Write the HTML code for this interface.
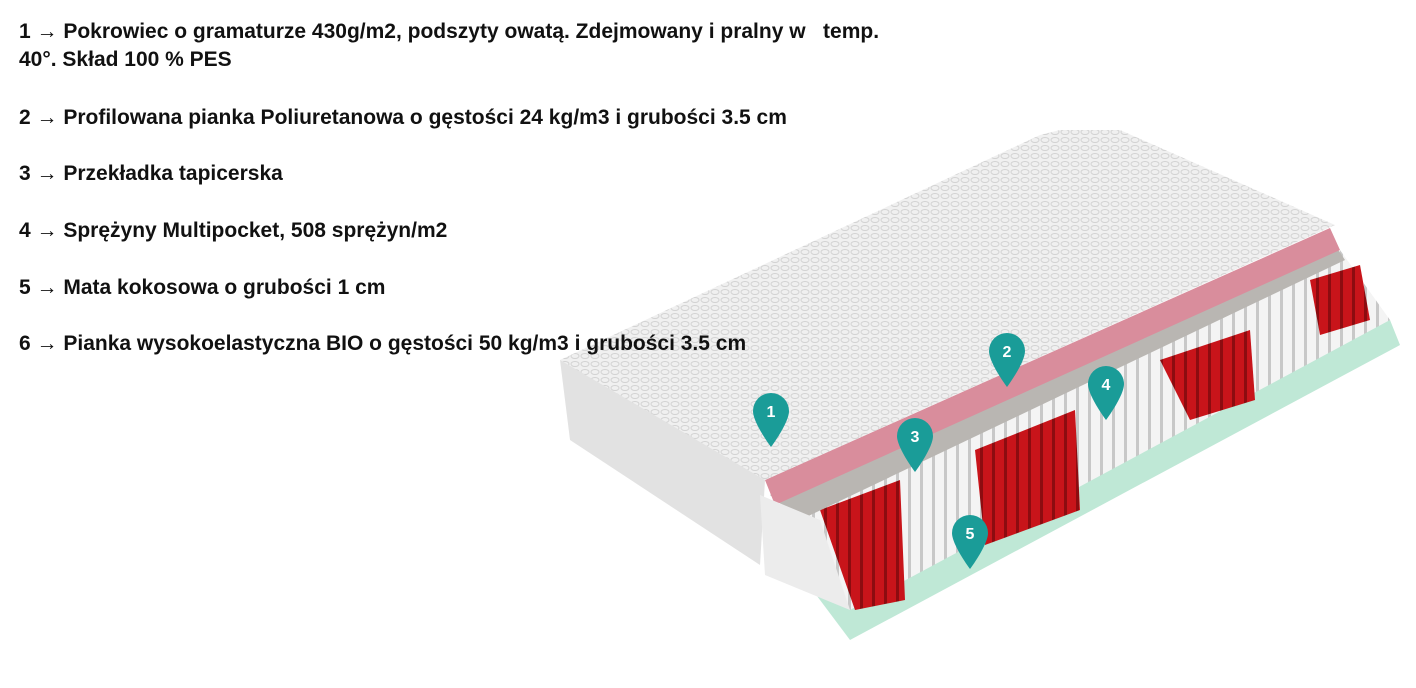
<!DOCTYPE html>
<html><head><meta charset="utf-8"><style>
html,body{margin:0;padding:0;background:#fff;width:1416px;height:688px;overflow:hidden;position:relative}
.t{position:absolute;left:19px;font:bold 21px "Liberation Sans",sans-serif;color:#111;white-space:nowrap;z-index:2}
svg{position:absolute;left:0;top:0;z-index:1}
</style></head><body>
<div class="t" style="top:20px">1 → Pokrowiec o gramaturze 430g/m2, podszyty owatą. Zdejmowany i pralny w&nbsp;&nbsp; temp.</div>
<div class="t" style="top:48px">40°. Skład 100 % PES</div>
<div class="t" style="top:106px">2 → Profilowana pianka Poliuretanowa o gęstości 24 kg/m3 i grubości 3.5 cm</div>
<div class="t" style="top:162px">3 → Przekładka tapicerska</div>
<div class="t" style="top:219px">4 → Sprężyny Multipocket, 508 sprężyn/m2</div>
<div class="t" style="top:276px">5 → Mata kokosowa o grubości 1 cm</div>
<div class="t" style="top:332px">6 → Pianka wysokoelastyczna BIO o gęstości 50 kg/m3 i grubości 3.5 cm</div>
<svg width="1416" height="688">
<defs><pattern id="q" width="10" height="8" patternUnits="userSpaceOnUse"><rect width="10" height="8" fill="#f0f0f0"/><ellipse cx="5" cy="4" rx="4" ry="2.5" fill="none" stroke="#d2d2d2" stroke-width="1"/></pattern>
<pattern id="r" width="12" height="10" patternUnits="userSpaceOnUse"><rect width="12" height="10" fill="#c8141a"/><rect x="8" width="3" height="10" fill="#8c0c10"/></pattern>
<pattern id="w" width="12" height="10" patternUnits="userSpaceOnUse"><rect width="12" height="10" fill="#f4f4f4"/><rect x="8" width="3" height="10" fill="#c8c8c8"/></pattern></defs>
<polygon points="790,560 1390,320 1400,345 850,640" fill="#bfe8d6"/>
<polygon points="770,520 1340,250 1390,320 850,610" fill="url(#w)"/>
<polygon points="820,510 900,480 905,600 855,610" fill="url(#r)"/>
<polygon points="975,450 1075,410 1080,510 985,545" fill="url(#r)"/>
<polygon points="1160,360 1250,330 1255,400 1190,420" fill="url(#r)"/>
<polygon points="1310,280 1360,265 1370,320 1320,335" fill="url(#r)"/>
<polygon points="770,495 1335,245 1345,260 800,520" fill="#b9b6b2"/>
<polygon points="765,480 1330,228 1340,250 775,505" fill="#d98d9c"/>
<polygon points="560,360 1040,135 1060,130 1120,130 1335,225 765,480 585,380" fill="url(#q)"/>
<polygon points="560,360 765,480 760,565 570,440" fill="#e2e2e2"/>
<polygon points="760,495 820,520 850,610 765,575" fill="#ececec"/>
<g fill="#1a9c98">
<path d="M771 393a18 18 0 0 1 18 18c0 12-18 36-18 36s-18-24-18-36a18 18 0 0 1 18-18z"/>
<path d="M1007 333a18 18 0 0 1 18 18c0 12-18 36-18 36s-18-24-18-36a18 18 0 0 1 18-18z"/>
<path d="M915 418a18 18 0 0 1 18 18c0 12-18 36-18 36s-18-24-18-36a18 18 0 0 1 18-18z"/>
<path d="M1106 366a18 18 0 0 1 18 18c0 12-18 36-18 36s-18-24-18-36a18 18 0 0 1 18-18z"/>
<path d="M970 515a18 18 0 0 1 18 18c0 12-18 36-18 36s-18-24-18-36a18 18 0 0 1 18-18z"/>
</g>
<g fill="#fff" font-family="Liberation Sans" font-weight="bold" font-size="16" text-anchor="middle">
<text x="771" y="417">1</text><text x="1007" y="357">2</text><text x="915" y="442">3</text><text x="1106" y="390">4</text><text x="970" y="539">5</text>
</g>
</svg>
</body></html>
